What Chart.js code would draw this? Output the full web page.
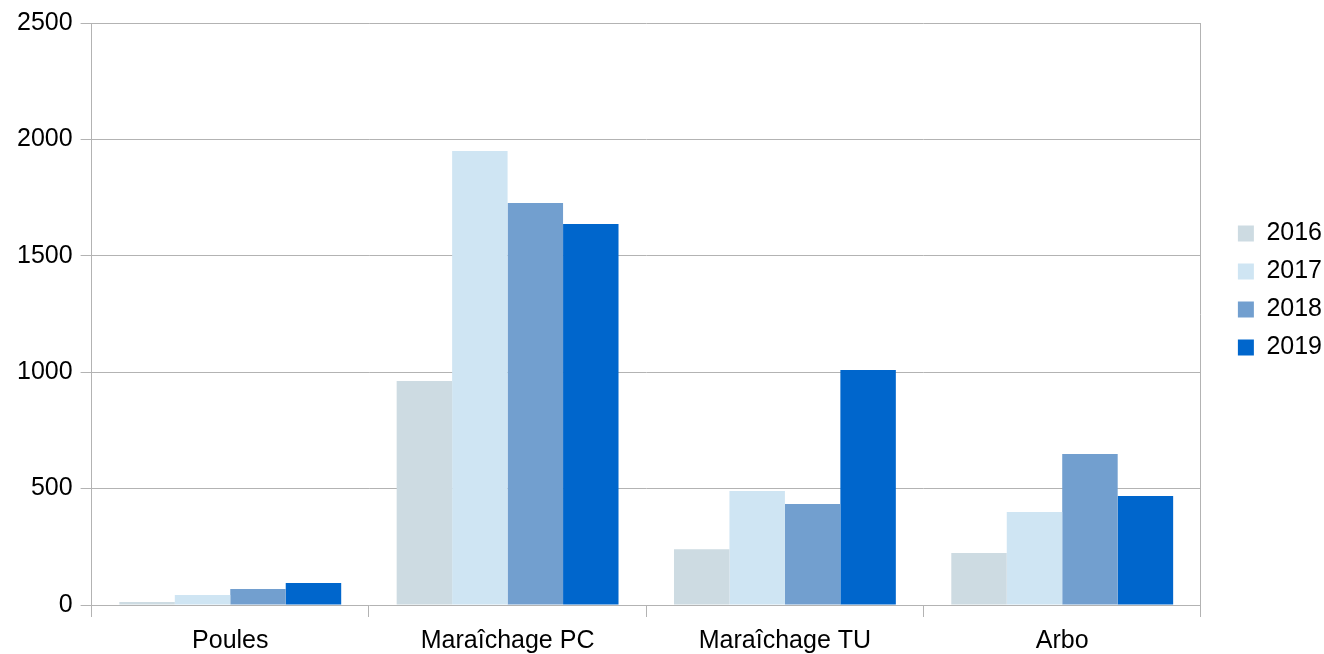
<!DOCTYPE html>
<html>
<head>
<meta charset="utf-8">
<script src="https://cdn.jsdelivr.net/npm/chart.js@4"></script>
<style>
    html, body { margin: 0; padding: 0; background: #ffffff; }
    #wrap { width: 1324px; height: 654px; }
</style>
</head>
<body>
<div id="wrap"><canvas id="chart"></canvas></div>
<script>
const categories = ['Poules', 'Maraîchage PC', 'Maraîchage TU', 'Arbo'];
const years = ['2016', '2017', '2018', '2019'];
const values2016 = [13, 962, 240, 223];
const values2017 = [43, 1950, 490, 400];
const values2018 = [69, 1727, 434, 649];
const values2019 = [95, 1637, 1009, 468];
const yTicks = [0, 500, 1000, 1500, 2000, 2500];

const seriesValues = [values2016, values2017, values2018, values2019];
const colors = ['#cddbe2', '#cfe5f3', '#729fcf', '#0066cc'];
const gridColor = '#b3b3b3';

Chart.defaults.font.family = '"Liberation Sans", Arial, sans-serif';
Chart.defaults.font.size = 25;
Chart.defaults.color = '#000000';

new Chart(document.getElementById('chart'), {
    type: 'bar',
    data: {
        labels: categories,
        datasets: years.map((year, i) => ({
            label: year,
            data: seriesValues[i],
            backgroundColor: colors[i],
            borderWidth: 0,
            categoryPercentage: 0.8,
            barPercentage: 1.0,
        })),
    },
    options: {
        responsive: true,
        maintainAspectRatio: false,
        animation: false,
        layout: { padding: { left: 9, right: -8, top: 10, bottom: 0 } },
        plugins: {
            tooltip: { enabled: false },
            legend: {
                position: 'right',
                align: 'start',
                title: { display: true, text: '', padding: { top: 168, bottom: 0 } },
                labels: { boxWidth: 16, boxHeight: 16, padding: 13 },
            },
        },
        scales: {
            x: {
                offset: true,
                grid: {
                    offset: true,
                    color: (ctx) => (ctx.index === 0 || ctx.index === categories.length) ? gridColor : 'rgba(0,0,0,0)',
                    tickColor: gridColor,
                    tickLength: 12,
                },
                border: { display: false },
                ticks: { padding: 9 },
                afterFit: (axis) => { axis.height = 49; },
            },
            y: {
                min: 0,
                max: yTicks[yTicks.length - 1],
                afterBuildTicks: (axis) => { axis.ticks = yTicks.map((v) => ({ value: v })); },
                grid: { color: gridColor, tickColor: gridColor, tickLength: 11 },
                border: { color: gridColor },
                ticks: { padding: 8, callback: (v) => String(v) },
            },
            // right frame line of the plot area, also keeps a gap before the legend
            yRight: {
                position: 'right',
                min: 0,
                max: yTicks[yTicks.length - 1],
                grid: { drawOnChartArea: false, drawTicks: false },
                border: { color: gridColor },
                ticks: { display: false },
                afterFit: (axis) => { axis.width = 24; },
            },
        },
    },
});
</script>
</body>
</html>
